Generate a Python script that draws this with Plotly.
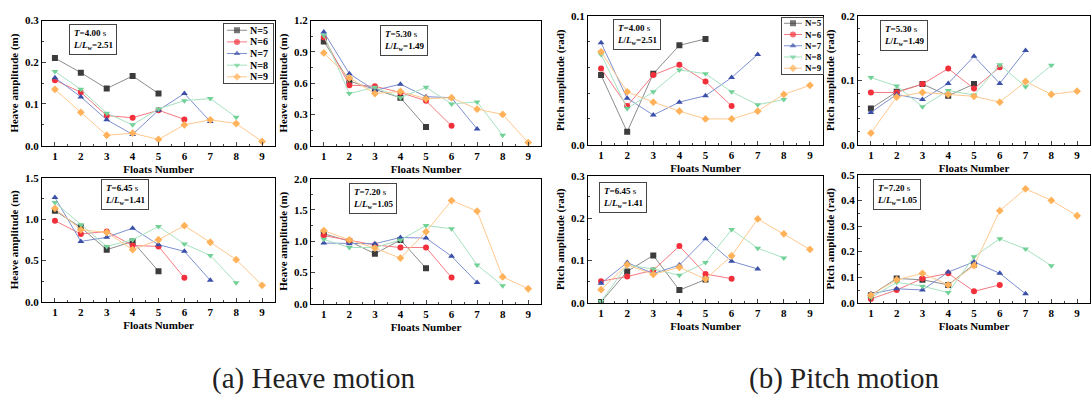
import plotly.graph_objects as go

floats = [1, 2, 3, 4, 5, 6, 7, 8, 9]
series_names = ["N=5", "N=6", "N=7", "N=8", "N=9"]

# Heave amplitude (m)
heave_t400 = [
    [0.210, 0.175, 0.137, 0.167, 0.125],
    [0.157, 0.128, 0.072, 0.067, 0.085, 0.063],
    [0.163, 0.117, 0.062, 0.027, 0.085, 0.125, 0.058],
    [0.178, 0.135, 0.078, 0.050, 0.088, 0.108, 0.113, 0.068],
    [0.135, 0.080, 0.025, 0.030, 0.015, 0.050, 0.062, 0.053, 0.010],
]
heave_t530 = [
    [1.00, 0.62, 0.54, 0.46, 0.18],
    [1.04, 0.58, 0.57, 0.51, 0.43, 0.19],
    [1.09, 0.69, 0.53, 0.59, 0.47, 0.46, 0.16],
    [1.06, 0.50, 0.56, 0.46, 0.56, 0.40, 0.42, 0.10],
    [0.89, 0.65, 0.50, 0.52, 0.45, 0.46, 0.35, 0.30, 0.03],
]
heave_t645 = [
    [1.10, 0.90, 0.63, 0.73, 0.37],
    [0.98, 0.82, 0.85, 0.68, 0.67, 0.29],
    [1.26, 0.73, 0.78, 0.89, 0.69, 0.61, 0.26],
    [1.20, 0.93, 0.67, 0.75, 0.91, 0.70, 0.56, 0.23],
    [1.13, 0.87, 0.84, 0.63, 0.75, 0.92, 0.72, 0.51, 0.20],
]
heave_t720 = [
    [1.12, 1.00, 0.80, 1.02, 0.57],
    [1.09, 1.01, 0.94, 0.90, 0.90, 0.42],
    [0.97, 0.96, 0.96, 1.06, 1.05, 0.76, 0.34],
    [1.03, 0.90, 0.90, 1.02, 1.25, 1.20, 0.62, 0.29],
    [1.17, 1.02, 0.89, 0.73, 1.15, 1.65, 1.48, 0.43, 0.24],
]
# Pitch amplitude (rad)
pitch_t400 = [
    [0.054, 0.010, 0.055, 0.077, 0.082],
    [0.059, 0.030, 0.054, 0.062, 0.049, 0.030],
    [0.079, 0.036, 0.023, 0.033, 0.038, 0.052, 0.070],
    [0.070, 0.028, 0.041, 0.058, 0.055, 0.041, 0.031, 0.035],
    [0.072, 0.041, 0.033, 0.026, 0.020, 0.020, 0.026, 0.039, 0.046],
]
pitch_t530 = [
    [0.056, 0.082, 0.094, 0.076, 0.094],
    [0.081, 0.081, 0.094, 0.118, 0.087, 0.120],
    [0.050, 0.078, 0.070, 0.095, 0.137, 0.095, 0.146],
    [0.104, 0.091, 0.059, 0.084, 0.077, 0.124, 0.090, 0.123],
    [0.018, 0.074, 0.081, 0.078, 0.075, 0.066, 0.098, 0.078, 0.083],
]
pitch_t645 = [
    [0.002, 0.074, 0.112, 0.030, 0.055],
    [0.051, 0.062, 0.077, 0.134, 0.068, 0.057],
    [0.046, 0.095, 0.069, 0.089, 0.151, 0.098, 0.080],
    [0.003, 0.089, 0.080, 0.065, 0.095, 0.173, 0.129, 0.106],
    [0.031, 0.090, 0.067, 0.084, 0.056, 0.111, 0.198, 0.163, 0.126],
]
pitch_t720 = [
    [0.030, 0.095, 0.090, 0.070, 0.150],
    [0.015, 0.050, 0.095, 0.115, 0.045, 0.070],
    [0.035, 0.055, 0.050, 0.120, 0.160, 0.115, 0.035],
    [0.020, 0.080, 0.065, 0.040, 0.180, 0.250, 0.210, 0.145],
    [0.030, 0.090, 0.115, 0.070, 0.145, 0.360, 0.445, 0.400, 0.340],
]

panel_periods = ["4.00", "5.30", "6.45", "7.20", "4.00", "5.30", "6.45", "7.20"]
panel_ratios = ["2.51", "1.49", "1.41", "1.05", "2.51", "1.49", "1.41", "1.05"]
heave_title = "Heave amplitude (m)"
pitch_title = "Pitch amplitude (rad)"
x_title = "Floats Number"
captions = ["(a) Heave motion", "(b) Pitch motion"]

W, H = 1092, 400
marker_colors = ["#3c3c3c", "#f2303c", "#3a4fa8", "#72d197", "#ffb25a"]
line_colors = ["#8c8c8c", "#f57a82", "#7d8fd0", "#a6e2bf", "#ffc88e"]
symbols = ["square", "circle", "triangle-up", "triangle-down", "diamond"]

# pixel boxes (left, top, right, bottom)
boxes = [
    (42, 15, 275, 144), (311, 15, 541, 144),
    (42, 177, 275, 305), (311, 178, 541, 307),
    (588, 10, 823, 143), (858, 10, 1090, 143),
    (588, 175, 823, 306), (858, 174, 1090, 306),
]
panel_data = [heave_t400, heave_t530, heave_t645, heave_t720,
              pitch_t400, pitch_t530, pitch_t645, pitch_t720]
yranges = [(0.3, 0.1, 0.05), (1.2, 0.3, 0.15), (1.5, 0.5, 0.25), (2.0, 0.5, 0.25),
           (0.1, 0.1, 0.02), (0.2, 0.1, 0.02), (0.3, 0.1, 0.05), (0.5, 0.1, 0.05)]
ann_centers = [(93, 35), (404, 36), (125, 194), (373, 198),
               (637, 29), (904, 30), (623, 197), (897, 194)]

font_family = "Liberation Serif"
fig = go.Figure()
layout = {}
annotations = []
for i, (box, data, yr) in enumerate(zip(boxes, panel_data, yranges)):
    k = "" if i == 0 else str(i + 1)
    l, t, r, b = box
    for j, ys in enumerate(data):
        fig.add_trace(go.Scatter(
            x=floats[:len(ys)], y=ys, name=series_names[j],
            mode="lines+markers",
            line=dict(color=line_colors[j], width=1),
            marker=dict(color=marker_colors[j], symbol=symbols[j], size=6,
                        line=dict(width=0)),
            xaxis="x" + k, yaxis="y" + k, showlegend=False,
        ))
    common = dict(showline=True, linecolor="black", linewidth=1, mirror=True,
                  ticks="inside", showgrid=False, zeroline=False,
                  tickfont=dict(family=font_family, size=11, color="black", weight="bold"))
    layout["xaxis" + k] = dict(
        domain=[l / W, r / W], anchor="y" + k, range=[0.5, 9.5],
        tickvals=floats, ticklen=4,
        minor=dict(ticks="inside", ticklen=2, tickvals=[x + 0.5 for x in range(0, 10)]),
        title=dict(text=x_title, standoff=4,
                   font=dict(family=font_family, size=11, color="black", weight="bold")),
        **common)
    ymax, dt, mdt = yr
    layout["yaxis" + k] = dict(
        domain=[1 - b / H, 1 - t / H], anchor="x" + k, range=[0, ymax],
        dtick=dt, tick0=0, tickformat=".1f", ticklen=4,
        minor=dict(ticks="inside", ticklen=2, dtick=mdt, tick0=0),
        title=dict(text=heave_title if i < 4 else pitch_title, standoff=4,
                   font=dict(family=font_family, size=11, color="black", weight="bold")),
        **common)
    cx, cy = ann_centers[i]
    annotations.append(dict(
        xref="paper", yref="paper", x=cx / W, y=1 - cy / H,
        xanchor="center", yanchor="middle", showarrow=False, align="left",
        text=(f"<b><i>T</i>={panel_periods[i]}</b> s<br>"
              f"<b><i>L</i>/<i>L</i><sub>w</sub>={panel_ratios[i]}</b>"),
        font=dict(family=font_family, size=9, color="black"),
        bordercolor="#444", borderwidth=1, borderpad=3, bgcolor="white",
    ))

# compact legends (inside heave T=4.00 panel and pitch T=4.00 panel)
legend_boxes = [(224, 19, 273, 79), (782, 12, 823, 70)]
for n, (l, t, r, b) in enumerate(legend_boxes):
    ax = str(9 + n)
    w, h = r - l, b - t
    step = h / 5.0
    layout["xaxis" + ax] = dict(domain=[l / W, r / W], anchor="y" + ax, range=[0, w],
                                showline=True, mirror=True, linecolor="#444", linewidth=1,
                                showgrid=False, zeroline=False, showticklabels=False,
                                ticks="", fixedrange=True)
    layout["yaxis" + ax] = dict(domain=[1 - b / H, 1 - t / H], anchor="x" + ax,
                                range=[h, 0], showline=True, mirror=True,
                                linecolor="#444", linewidth=1, showgrid=False,
                                zeroline=False, showticklabels=False, ticks="",
                                fixedrange=True)
    x0, x1, xt = (3, 23, 24) if n == 0 else (2, 20, 20.5)
    for j, name in enumerate(series_names):
        yc = step * (j + 0.5)
        fig.add_trace(go.Scatter(
            x=[x0, (x0 + x1) / 2, x1], y=[yc, yc, yc], mode="lines+markers",
            line=dict(color=line_colors[j], width=1),
            marker=dict(color=marker_colors[j], symbol=symbols[j], size=[0, 6, 0],
                        line=dict(width=0)),
            xaxis="x" + ax, yaxis="y" + ax, showlegend=False, hoverinfo="skip",
        ))
        annotations.append(dict(
            xref="x" + ax, yref="y" + ax, x=xt, y=yc, xanchor="left",
            yanchor="middle", showarrow=False, text=f"<b>{name}</b>",
            font=dict(family=font_family, size=10 if n == 0 else 9, color="black"),
        ))

for cap, cx in zip(captions, [313, 844]):
    annotations.append(dict(xref="paper", yref="paper", x=cx / W, y=1 - 384 / H,
                            xanchor="center", yanchor="middle", showarrow=False,
                            text=cap,
                            font=dict(family=font_family, size=29, color="#222")))

fig.update_layout(
    width=W, height=H, margin=dict(l=0, r=0, t=0, b=0),
    paper_bgcolor="white", plot_bgcolor="white", showlegend=False,
    annotations=annotations, **layout,
)
fig.write_html("out.html")
